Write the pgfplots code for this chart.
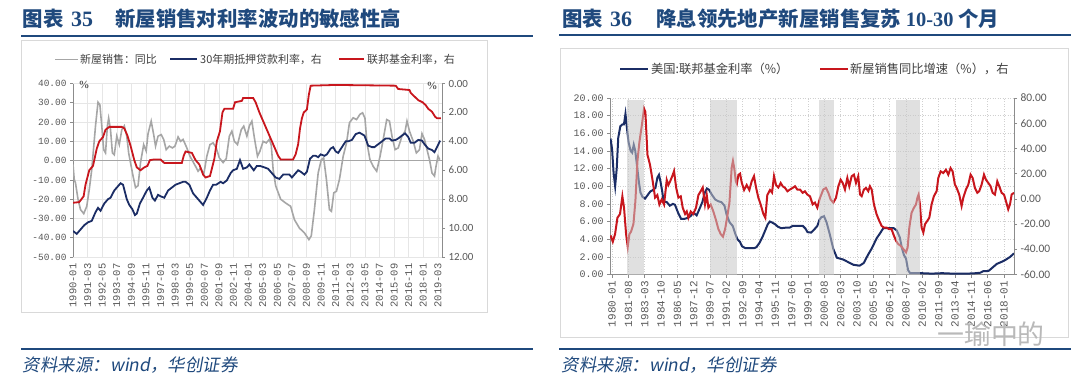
\documentclass[border=0pt]{standalone}
\usepackage{pgfplots}
\pgfplotsset{compat=1.18}
\usepackage{fontspec}
\setmainfont{Liberation Serif}
\newfontfamily\cjk{Noto Sans CJK SC}
\newfontfamily\cjkit[FakeSlant=0.18]{Noto Sans CJK SC}
\newfontfamily\mono{Liberation Mono}
\newfontfamily\carl{Carlito}
\definecolor{titleblue}{HTML}{1F497D}
\definecolor{navy}{HTML}{1B2D65}
\definecolor{redline}{HTML}{C8161D}
\definecolor{grayline}{HTML}{A6A6A6}
\definecolor{boxgray}{HTML}{D9D9D9}
\definecolor{axgray}{HTML}{8C8C8C}
\definecolor{lblgray}{HTML}{595959}
\definecolor{leggray}{HTML}{404040}
\definecolor{gridgray}{HTML}{E6E6E6}
\definecolor{gridgrayB}{HTML}{D0D0D0}
\definecolor{shade}{HTML}{C8C8C8}
\pgfplotsset{
 mybase/.style={scale only axis, enlargelimits=false, clip=true, anchor=north west,
   tick align=outside, major tick length=3bp,
   axis line style={draw=axgray, line width=0.6bp},
   tick style={draw=axgray, line width=0.6bp},
   ticklabel style={text=lblgray}},
}
\begin{document}
\begin{tikzpicture}
\path[use as bounding box] (0,0) rectangle (1080bp,-382bp);
\fill[white] (0,0) rectangle (1080bp,-382bp);
% ---------- Panel 1 frame ----------
\node[anchor=west, inner sep=0, text=titleblue, font=\cjk\bfseries\fontsize{20.5}{22}\selectfont] at (22.7bp,-19bp) {图表};
\node[anchor=west, inner sep=0, text=titleblue, font=\bfseries\fontsize{22}{24}\selectfont] at (71bp,-19.5bp) {35};
\node[anchor=west, inner sep=0, text=titleblue, font=\cjk\bfseries\fontsize{20.5}{22}\selectfont] at (115bp,-19bp) {新屋销售对利率波动的敏感性高};
\draw[titleblue, line width=2bp] (21bp,-35.7bp) -- (533bp,-35.7bp);
\draw[boxgray, line width=0.8bp] (21bp,-40bp) rectangle (487bp,-312bp);
\draw[titleblue, line width=2bp] (21bp,-349bp) -- (533bp,-349bp);
\node[anchor=west, inner sep=0, text=titleblue, font=\fontsize{17.5}{19}\selectfont] at (22.7bp,-365.5bp) {\cjkit 资料来源：{\itshape wind}，华创证券};
% legend 1
\draw[grayline, line width=1.6bp] (55bp,-59.3bp) -- (78bp,-59.3bp);
\node[anchor=west, inner sep=0, text=leggray, font=\cjk\fontsize{11}{12}\selectfont] at (80bp,-59.3bp) {新屋销售：同比};
\draw[navy, line width=1.8bp] (170bp,-59.3bp) -- (197bp,-59.3bp);
\node[anchor=west, inner sep=0, text=leggray, font=\cjk\fontsize{11}{12}\selectfont] at (200bp,-59.3bp) {30年期抵押贷款利率，右};
\draw[redline, line width=1.8bp] (339bp,-59.3bp) -- (364bp,-59.3bp);
\node[anchor=west, inner sep=0, text=leggray, font=\cjk\fontsize{11}{12}\selectfont] at (367bp,-59.3bp) {联邦基金利率，右};
% ---------- Panel 2 frame ----------
\node[anchor=west, inner sep=0, text=titleblue, font=\cjk\bfseries\fontsize{20.5}{22}\selectfont] at (562bp,-19bp) {图表};
\node[anchor=west, inner sep=0, text=titleblue, font=\bfseries\fontsize{22}{24}\selectfont] at (610bp,-19.5bp) {36};
\node[anchor=west, inner sep=0, text=titleblue, font=\cjk\bfseries\fontsize{20.5}{22}\selectfont] at (656bp,-19bp) {降息领先地产新屋销售复苏 {\rmfamily 10-30} 个月};
\draw[titleblue, line width=2bp] (559bp,-35.3bp) -- (1071bp,-35.3bp);
\draw[boxgray, line width=0.8bp] (560bp,-48.3bp) rectangle (1068bp,-337bp);
\draw[titleblue, line width=2bp] (559bp,-349bp) -- (1071bp,-349bp);
\node[anchor=west, inner sep=0, text=titleblue, font=\fontsize{17.5}{19}\selectfont] at (561.7bp,-365.5bp) {\cjkit 资料来源：{\itshape wind}，华创证券};
\draw[navy, line width=2bp] (620bp,-69.3bp) -- (648bp,-69.3bp);
\node[anchor=west, inner sep=0, text=leggray, font=\cjk\fontsize{12.3}{13}\selectfont] at (651bp,-69.3bp) {美国:联邦基金利率（\%）};
\draw[redline, line width=2bp] (820bp,-69.3bp) -- (848bp,-69.3bp);
\node[anchor=west, inner sep=0, text=leggray, font=\cjk\fontsize{12.3}{13}\selectfont] at (850bp,-69.3bp) {新屋销售同比增速（\%），右};

% ================= Panel 1: left axis =================
\begin{axis}[mybase, at={(73bp,-83.5bp)}, width=369bp, height=173.5bp,
  xmin=1990, xmax=2019.5, ymin=-50, ymax=40,
  axis y line*=left, axis x line*=bottom, x axis line style={draw=none},
  xtick={1990,1991.1667,1992.3333,1993.5,1994.6667,1995.8333,1997,1998.1667,1999.3333,2000.5,2001.6667,2002.8333,2004,2005.1667,2006.3333,2007.5,2008.6667,2009.8333,2011,2012.1667,2013.3333,2014.5,2015.6667,2016.8333,2018,2019.1667},
  xticklabels={1990-01,1991-03,1992-05,1993-07,1994-09,1995-11,1997-01,1998-03,1999-05,2000-07,2001-09,2002-11,2004-01,2005-03,2006-05,2007-07,2008-09,2009-11,2011-01,2012-03,2013-05,2014-07,2015-09,2016-11,2018-01,2019-03},
  x tick style={draw=none},
  xticklabel style={rotate=90, anchor=east, font=\mono\fontsize{10.5}{11}\selectfont},
  ytick={-50,-40,-30,-20,-10,0,10,20,30,40},
  yticklabels={-50.00,-40.00,-30.00,-20.00,-10.00,0.00,10.00,20.00,30.00,40.00},
  yticklabel style={font=\mono\fontsize{9.5}{10}\selectfont},
  grid=major, major grid style={draw=gridgray, line width=0.5bp},
  extra y ticks={0}, extra y tick labels={},
  extra y tick style={grid=major, major grid style={draw=gray!70, line width=1.1bp}, tick style={draw=none}},
]
\addplot[grayline, line width=1.6bp] coordinates {
(1990.0,-2) (1990.1,-9.8) (1990.2,-11.6) (1990.4,-20) (1990.6,-25.4) (1990.86,-27.5) (1991.1,-23.7) (1991.3,-15) (1991.5,-4.6) (1991.8,18) (1992.0,30.3) (1992.15,29) (1992.3,18) (1992.45,5.7) (1992.6,4) (1992.75,18) (1992.85,22) (1993.0,16) (1993.15,4) (1993.3,3) (1993.5,12.7) (1993.7,8.3) (1993.9,16) (1994.1,18) (1994.3,12.7) (1994.45,4) (1994.8,-8) (1995.0,-14) (1995.2,-13) (1995.4,-1) (1995.65,8.3) (1995.85,5) (1996.0,14) (1996.25,20.5) (1996.45,13.5) (1996.6,7.5) (1996.8,12.7) (1997.05,13.5) (1997.25,11) (1997.45,5.7) (1997.7,7.5) (1997.95,6.6) (1998.15,7.5) (1998.4,12.3) (1998.6,10) (1998.8,11) (1999.1,6.6) (1999.35,2.3) (1999.8,-3) (2000.0,-5.5) (2000.2,-3.8) (2000.45,-7.2) (2000.7,2.3) (2000.95,8.3) (2001.2,9.2) (2001.45,6.6) (2001.7,1.4) (2002.0,-1) (2002.25,1) (2002.5,12.7) (2002.7,15.3) (2002.9,10) (2003.15,8.3) (2003.45,16) (2003.65,17.9) (2003.9,12.7) (2004.1,18) (2004.3,20.5) (2004.5,11.8) (2004.75,2.3) (2004.95,5) (2005.2,10) (2005.45,9.2) (2005.7,11) (2005.85,8) (2006.0,-4.6) (2006.2,-13) (2006.6,-20) (2007.0,-22) (2007.4,-23.7) (2007.7,-30.6) (2008.1,-35) (2008.5,-37.5) (2008.86,-41) (2009.05,-39) (2009.3,-25.4) (2009.6,-6.4) (2009.85,0.5) (2010.04,1.4) (2010.26,-9.8) (2010.5,-25.4) (2010.66,-26.3) (2010.85,-16.7) (2011.06,-15.9) (2011.3,-9.8) (2011.6,2.3) (2011.87,9.2) (2012.1,19.6) (2012.4,22.2) (2012.67,21.3) (2012.94,24) (2013.15,24.8) (2013.34,22) (2013.5,9.2) (2013.74,0.5) (2014.0,-3) (2014.28,-5.5) (2014.55,2.3) (2014.8,11) (2015.08,21.3) (2015.3,20.5) (2015.5,12.7) (2015.75,5.7) (2016.0,6.6) (2016.3,12.7) (2016.55,15.3) (2016.7,20.5) (2016.9,15.3) (2017.2,10) (2017.45,4) (2017.7,5.7) (2017.9,14) (2018.1,11) (2018.3,5.7) (2018.5,0.5) (2018.7,-6.4) (2018.9,-8) (2019.02,-3) (2019.18,2.3) (2019.32,0.5)
};
\end{axis}
% ================= Panel 1: right axis =================
\begin{axis}[mybase, at={(73bp,-83.5bp)}, width=369bp, height=173.5bp,
  xmin=1990, xmax=2019.5, ymin=0, ymax=12, y dir=reverse,
  axis y line*=right, axis x line=none,
  ytick={0,2,4,6,8,10,12}, yticklabels={0.00,2.00,4.00,6.00,8.00,10.00,12.00},
  yticklabel style={font=\carl\fontsize{11}{12}\selectfont},
]
\addplot[navy, line width=1.8bp] coordinates {
(1990.0,10.2) (1990.3,10.4) (1990.6,10.1) (1990.9,9.8) (1991.2,9.6) (1991.5,9.5) (1991.8,8.9) (1992.0,8.6) (1992.2,8.8) (1992.5,8.3) (1992.8,8.0) (1993.0,7.9) (1993.3,7.4) (1993.6,7.1) (1993.8,6.9) (1994.0,7.0) (1994.3,8.0) (1994.5,8.4) (1994.75,8.7) (1994.95,9.1) (1995.1,9.0) (1995.35,8.3) (1995.6,7.9) (1995.9,7.4) (1996.1,7.2) (1996.35,7.9) (1996.55,8.1) (1996.8,7.7) (1997.0,7.8) (1997.3,7.9) (1997.6,7.4) (1997.9,7.2) (1998.2,7.0) (1998.5,6.9) (1998.8,6.8) (1999.0,6.8) (1999.3,7.0) (1999.6,7.6) (1999.9,7.9) (2000.2,8.2) (2000.4,8.4) (2000.7,7.9) (2000.95,7.4) (2001.2,7.0) (2001.45,7.0) (2001.8,6.8) (2002.0,6.9) (2002.3,6.7) (2002.6,6.2) (2002.8,6.0) (2003.1,5.9) (2003.35,5.3) (2003.6,5.9) (2003.9,5.8) (2004.1,5.6) (2004.45,6.0) (2004.7,5.7) (2004.95,5.7) (2005.3,5.8) (2005.6,5.9) (2005.9,6.2) (2006.2,6.5) (2006.5,6.6) (2006.8,6.3) (2007.0,6.3) (2007.3,6.3) (2007.5,6.5) (2007.8,6.2) (2008.0,6.0) (2008.2,6.1) (2008.5,6.3) (2008.7,6.1) (2008.95,5.2) (2009.2,5.0) (2009.4,5.0) (2009.6,5.1) (2009.8,4.9) (2010.1,5.0) (2010.3,4.9) (2010.6,4.5) (2010.8,4.4) (2011.0,4.7) (2011.2,4.8) (2011.5,4.4) (2011.8,4.0) (2012.0,4.0) (2012.3,3.9) (2012.6,3.5) (2012.9,3.4) (2013.1,3.5) (2013.3,3.6) (2013.6,4.3) (2013.9,4.4) (2014.1,4.4) (2014.4,4.2) (2014.7,4.0) (2015.0,3.8) (2015.3,3.8) (2015.5,3.95) (2015.8,3.9) (2016.0,3.8) (2016.3,3.6) (2016.55,3.45) (2016.8,3.7) (2017.0,4.1) (2017.3,4.1) (2017.6,3.9) (2017.9,3.95) (2018.1,4.2) (2018.4,4.5) (2018.7,4.6) (2018.9,4.75) (2019.1,4.4) (2019.35,3.95)
};
\addplot[redline, line width=1.8bp] coordinates {
(1990.0,8.25) (1990.5,8.2) (1990.85,7.8) (1991.0,7.0) (1991.3,6.0) (1991.6,5.7) (1991.9,4.5) (1992.1,4.0) (1992.4,3.7) (1992.6,3.2) (1992.9,3.0) (1993.9,3.0) (1994.1,3.1) (1994.35,3.6) (1994.6,4.3) (1994.9,5.3) (1995.1,5.8) (1995.4,6.0) (1995.7,5.8) (1995.95,5.7) (1996.15,5.3) (1996.5,5.25) (1997.0,5.25) (1997.3,5.5) (1998.7,5.5) (1998.85,5.0) (1999.0,4.7) (1999.5,4.8) (1999.8,5.3) (2000.1,5.6) (2000.4,6.3) (2000.6,6.5) (2000.95,6.4) (2001.1,5.9) (2001.3,5.2) (2001.5,4.0) (2001.75,3.3) (2001.95,2.0) (2002.1,1.75) (2002.8,1.75) (2002.95,1.3) (2003.5,1.2) (2003.6,1.0) (2004.4,1.0) (2004.6,1.3) (2004.9,2.0) (2005.2,2.6) (2005.5,3.2) (2005.8,3.8) (2006.1,4.4) (2006.4,5.0) (2006.6,5.25) (2007.6,5.25) (2007.8,4.9) (2008.0,4.2) (2008.15,3.1) (2008.3,2.4) (2008.45,2.0) (2008.7,1.8) (2008.85,0.8) (2009.0,0.15) (2011.0,0.1) (2013.0,0.12) (2015.8,0.15) (2016.0,0.38) (2016.9,0.45) (2017.0,0.65) (2017.3,0.9) (2017.6,1.15) (2017.95,1.3) (2018.2,1.5) (2018.4,1.75) (2018.7,1.95) (2018.95,2.3) (2019.1,2.4) (2019.4,2.4)
};
\end{axis}
\node[inner sep=0, text=lblgray, font=\bfseries\fontsize{11}{12}\selectfont] at (84bp,-85bp) {\%};
\node[inner sep=0, text=lblgray, font=\bfseries\fontsize{11}{12}\selectfont] at (432bp,-86bp) {\%};

% ================= Panel 2: left axis =================
\begin{axis}[mybase, at={(610bp,-98bp)}, width=404bp, height=176.5bp,
  xmin=1979.8, xmax=2018.97, ymin=0, ymax=20,
  axis y line*=left, axis x line*=bottom,
  xtick={1980,1981.5833,1983.1667,1984.75,1986.3333,1987.9167,1989.5,1991.0833,1992.6667,1994.25,1995.8333,1997.4167,1999,2000.5833,2002.1667,2003.75,2005.3333,2006.9167,2008.5,2010.0833,2011.6667,2013.25,2014.8333,2016.4167,2018},
  xticklabels={1980-01,1981-08,1983-03,1984-10,1986-05,1987-12,1989-07,1991-02,1992-09,1994-04,1995-11,1997-06,1999-01,2000-08,2002-03,2003-10,2005-05,2006-12,2008-07,2010-02,2011-09,2013-04,2014-11,2016-06,2018-01},
  xticklabel style={rotate=90, anchor=east, font=\mono\fontsize{11}{12}\selectfont},
  ytick={0,2,4,6,8,10,12,14,16,18,20},
  yticklabels={0.00,2.00,4.00,6.00,8.00,10.00,12.00,14.00,16.00,18.00,20.00},
  yticklabel style={font=\mono\fontsize{10}{11}\selectfont},
  grid=major, major grid style={draw=gridgrayB, line width=0.6bp, dash pattern=on 1bp off 1.5bp},
]
\addplot[navy, line width=2bp] coordinates {
(1979.85,15.4) (1980.0,14.2) (1980.15,11.5) (1980.3,10.0) (1980.45,12.0) (1980.6,15.5) (1980.8,16.8) (1981.0,17.0) (1981.15,17.0) (1981.3,18.2) (1981.45,16.5) (1981.6,15.0) (1981.8,14.0) (1981.95,13.8) (1982.1,14.7) (1982.25,14.0) (1982.4,12.5) (1982.6,10.5) (1982.75,9.3) (1982.95,8.8) (1983.2,8.6) (1983.45,9.0) (1983.7,9.4) (1984.0,9.6) (1984.2,9.8) (1984.4,11.0) (1984.55,11.3) (1984.7,10.5) (1984.85,9.5) (1985.0,8.3) (1985.3,8.2) (1985.6,7.8) (1985.9,8.0) (1986.1,7.9) (1986.4,7.0) (1986.7,6.3) (1987.0,6.3) (1987.3,6.4) (1987.6,6.6) (1987.9,7.0) (1988.2,6.7) (1988.5,7.5) (1988.75,8.2) (1989.0,9.3) (1989.2,9.75) (1989.4,9.6) (1989.7,9.0) (1990.0,8.5) (1990.3,8.3) (1990.6,8.2) (1990.9,7.8) (1991.1,6.8) (1991.4,5.9) (1991.7,5.5) (1991.95,4.6) (1992.15,4.0) (1992.4,3.7) (1992.6,3.2) (1992.9,3.0) (1993.8,3.0) (1994.0,3.1) (1994.3,3.6) (1994.6,4.3) (1994.85,5.0) (1995.1,5.7) (1995.3,6.0) (1995.5,5.9) (1995.8,5.7) (1996.1,5.4) (1996.4,5.25) (1996.8,5.3) (1997.2,5.3) (1997.5,5.5) (1998.0,5.5) (1998.5,5.5) (1998.75,5.2) (1998.95,4.8) (1999.3,4.75) (1999.6,5.1) (1999.9,5.5) (2000.1,6.2) (2000.3,6.5) (2000.55,6.6) (2000.8,5.9) (2001.1,4.6) (2001.45,2.9) (2001.8,1.9) (2002.4,1.7) (2002.9,1.4) (2003.4,1.1) (2004.0,1.0) (2004.4,1.3) (2004.8,2.2) (2005.2,3.0) (2005.65,4.1) (2006.0,4.7) (2006.3,5.25) (2007.3,5.25) (2007.6,5.0) (2007.9,4.2) (2008.1,3.0) (2008.3,2.2) (2008.5,1.8) (2008.7,0.5) (2008.9,0.15) (2010.0,0.15) (2011.0,0.1) (2012.0,0.15) (2013.0,0.1) (2014.0,0.1) (2015.0,0.12) (2015.7,0.2) (2016.0,0.38) (2016.5,0.4) (2016.8,0.7) (2017.3,1.2) (2017.9,1.5) (2018.2,1.7) (2018.6,2.0) (2018.97,2.4)
};
\end{axis}
% ================= Panel 2: right axis =================
\begin{axis}[mybase, at={(610bp,-98bp)}, width=404bp, height=176.5bp,
  xmin=1979.8, xmax=2018.97, ymin=-60, ymax=80,
  axis y line*=right, axis x line=none,
  ytick={-60,-40,-20,0,20,40,60,80},
  yticklabels={-60.00,-40.00,-20.00,0.00,20.00,40.00,60.00,80.00},
  yticklabel style={font=\carl\fontsize{11.5}{12}\selectfont},
]
\addplot[redline, line width=2bp] coordinates {
(1979.85,-29) (1980.07,-34) (1980.29,-28) (1980.52,-15) (1980.77,-12) (1981.0,2) (1981.16,-7) (1981.36,-28) (1981.52,-38) (1981.68,-28) (1981.84,-26) (1982.07,-20) (1982.26,-2) (1982.46,30) (1982.65,45) (1982.88,58) (1983.1,71.6) (1983.23,69) (1983.43,35) (1983.68,27) (1983.94,14) (1984.17,1) (1984.39,3) (1984.59,-4.5) (1984.81,-0.5) (1985.04,-4.5) (1985.3,15) (1985.46,11) (1985.69,15) (1985.88,19) (1986.01,22) (1986.21,9) (1986.43,1) (1986.66,2) (1986.85,-7) (1987.08,-12) (1987.24,-10) (1987.4,-15) (1987.63,-10) (1987.88,-12) (1988.14,-7) (1988.37,3) (1988.59,6) (1988.79,9) (1989.01,-4.5) (1989.18,3) (1989.34,-7) (1989.56,-4.5) (1989.82,-10) (1990.08,-17) (1990.31,-24) (1990.54,-28) (1990.75,-30) (1990.96,-24) (1991.15,-15) (1991.38,-3) (1991.6,25) (1991.72,30) (1991.85,24) (1992.0,14) (1992.1,12) (1992.25,19) (1992.41,20) (1992.57,13) (1992.8,7) (1993.05,11) (1993.31,7) (1993.54,14) (1993.76,18) (1993.96,9) (1994.18,1) (1994.41,-4.5) (1994.67,-12) (1994.86,-15) (1995.05,3) (1995.31,7) (1995.51,5) (1995.7,18) (1995.9,11) (1996.12,9) (1996.35,12.6) (1996.54,10) (1996.77,8.7) (1997.0,6) (1997.25,7.4) (1997.51,8.7) (1997.74,10) (1997.96,7.4) (1998.22,7.4) (1998.48,4.8) (1998.7,6) (1998.93,3.4) (1999.19,2) (1999.45,-4.4) (1999.67,-3) (1999.9,-7) (2000.16,0.8) (2000.48,7.4) (2000.74,8.7) (2000.97,4.8) (2001.19,-0.5) (2001.45,-3) (2001.71,0.8) (2001.94,10) (2002.16,15.2) (2002.36,12.6) (2002.58,7.4) (2002.81,16.6) (2003.0,10) (2003.23,17.9) (2003.45,19.2) (2003.65,12.6) (2003.87,17.9) (2004.04,3.4) (2004.2,2.1) (2004.42,7.4) (2004.62,8.7) (2004.84,6.1) (2005.0,10) (2005.17,7.4) (2005.39,-4.4) (2005.65,-12.3) (2005.91,-17.5) (2006.14,-21.5) (2006.36,-22.8) (2006.62,-22.8) (2006.88,-24.1) (2007.1,-24.1) (2007.27,-28) (2007.53,-33.3) (2007.75,-35.9) (2007.98,-37.2) (2008.24,-39.8) (2008.5,-42.4) (2008.66,-38.5) (2008.82,-22.8) (2009.04,-11) (2009.27,-7) (2009.47,-4.4) (2009.6,0.8) (2009.72,3.4) (2009.85,-4.4) (2010.01,-22.8) (2010.18,-26.7) (2010.34,-20.1) (2010.56,-17.5) (2010.76,-14.9) (2010.98,-4.4) (2011.2,2.1) (2011.47,6.1) (2011.63,16.6) (2011.86,21.8) (2012.11,20.5) (2012.37,23.1) (2012.6,19.2) (2012.82,24.4) (2013.02,21.8) (2013.24,11.3) (2013.41,8.7) (2013.66,3.4) (2013.89,-5.7) (2014.05,0.8) (2014.31,7.4) (2014.54,11.3) (2014.76,19.2) (2014.96,16.6) (2015.18,8.7) (2015.41,4.8) (2015.6,6.1) (2015.83,11.3) (2016.06,19.2) (2016.25,15.2) (2016.48,12.6) (2016.7,10) (2016.9,4.8) (2017.12,3.4) (2017.35,13.9) (2017.54,10) (2017.77,4.8) (2018.0,3.4) (2018.19,-1.8) (2018.41,-8.3) (2018.58,-4.4) (2018.74,3.4) (2018.97,4.8)
};
\end{axis}
% ================= Panel 2: shaded periods =================
\begin{axis}[mybase, at={(610bp,-98bp)}, width=404bp, height=176.5bp,
  xmin=1979.8, xmax=2018.97, ymin=0, ymax=20, hide axis]
\addplot[fill=shade, draw=none, fill opacity=0.55] coordinates {(1981.4,19.8) (1983.1,19.8)} \closedcycle;
\addplot[fill=shade, draw=none, fill opacity=0.55] coordinates {(1989.5,19.8) (1992.1,19.8)} \closedcycle;
\addplot[fill=shade, draw=none, fill opacity=0.55] coordinates {(2000.1,19.8) (2001.5,19.8)} \closedcycle;
\addplot[fill=shade, draw=none, fill opacity=0.55] coordinates {(2007.55,19.8) (2009.9,19.8)} \closedcycle;
\end{axis}
% watermark
\node[inner sep=0, text=gray!55, font=\cjk\fontsize{27}{28}\selectfont] at (991bp,-334bp) {一瑜中的};
\end{tikzpicture}
\end{document}
